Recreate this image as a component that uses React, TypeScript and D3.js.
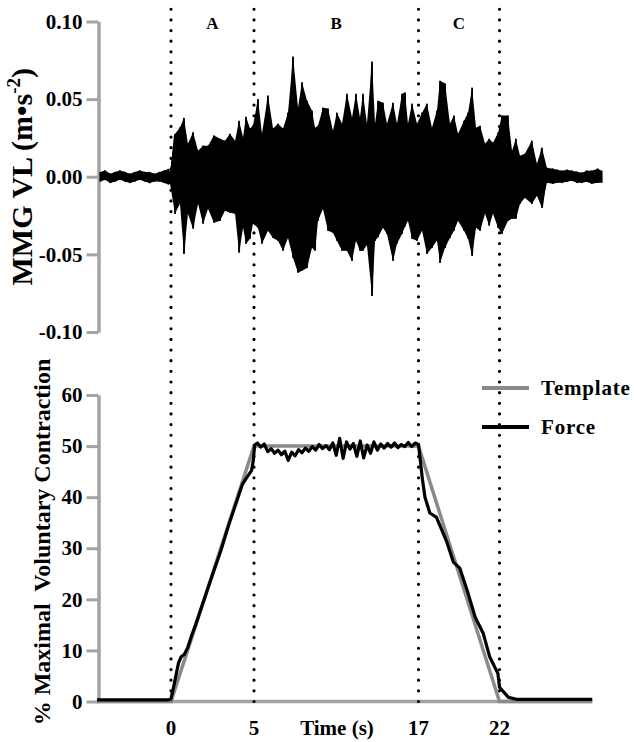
import React, { useEffect, useRef } from 'react';
import * as d3 from 'd3';

// protocol phases (s)
const phaseTimes = [0, 5, 17, 22];
const phaseLabels = ['A', 'B', 'C'];

// MMG VL signal, min / max per column (m·s-2)
const mmgTime = [
  -4.3, -4.0, -3.7, -3.4, -3.1, -2.8, -2.5, -2.2, -1.9, -1.6, -1.3, -1.0, -0.7, -0.4, -0.15,
  -0.06, 0.24, 0.54, 0.78, 1.02, 1.33, 1.63, 1.93, 2.23, 2.59, 2.95, 3.25, 3.55, 3.86, 4.1, 4.34, 4.52, 4.76, 4.94,
  5.29, 5.58, 6.02, 6.39, 6.75, 7.12, 7.48, 7.85, 8.21, 8.5, 8.87, 9.23, 9.45, 9.67, 10.03, 10.4, 10.76, 11.05,
  11.42, 11.78, 12.15, 12.44, 12.73, 12.95, 13.24, 13.61, 13.83, 14.05, 14.41, 14.7, 15.14, 15.43, 15.8, 16.02,
  16.23, 16.53, 16.89,
  17.22, 17.52, 17.83, 18.14, 18.33, 18.64, 18.94, 19.19, 19.44, 19.81, 20.06, 20.31, 20.55, 20.8, 21.11, 21.36,
  21.6, 21.91,
  22.15, 22.52, 22.77, 23.01, 23.26, 23.56, 23.99, 24.3, 24.61, 24.91, 25.28, 25.55, 25.83, 26.15, 26.45, 26.75,
  27.06, 27.37, 27.67, 28.04, 28.28,
];
const mmgMax = [
  0.003, 0.004, 0.002, 0.003, 0.004, 0.003, 0.002, 0.003, 0.004, 0.003, 0.003, 0.002, 0.003, 0.004, 0.005,
  0.003, 0.0275, 0.0318, 0.0379, 0.0213, 0.0286, 0.0168, 0.02, 0.02, 0.0265, 0.0245, 0.0232, 0.0277, 0.0232, 0.0361, 0.0254, 0.0387, 0.031, 0.033,
  0.0501, 0.0277, 0.0523, 0.031, 0.0342, 0.031, 0.0413, 0.0774, 0.0445, 0.0608, 0.049, 0.0426, 0.0316, 0.0329, 0.0445, 0.0439, 0.0297, 0.0413,
  0.0342, 0.0535, 0.0381, 0.0535, 0.0381, 0.0535, 0.0342, 0.0742, 0.0342, 0.049, 0.0477, 0.0342, 0.0477, 0.0342, 0.0535, 0.0542,
  0.0342, 0.0471, 0.0342,
  0.0413, 0.0471, 0.0316, 0.0426, 0.0619, 0.06, 0.0342, 0.0394, 0.0277, 0.0361, 0.0413, 0.0574, 0.0316, 0.0329, 0.0213, 0.0245,
  0.0219, 0.0284,
  0.0394, 0.0394, 0.0168, 0.0245, 0.0135, 0.0148, 0.0232, 0.0084, 0.0187, 0.0058, 0.0052, 0.0045, 0.0039, 0.0045, 0.0039, 0.0032,
  0.0026, 0.0039, 0.0039, 0.0052, 0.0039,
];
const mmgMin = [
  -0.003, -0.002, -0.004, -0.003, -0.002, -0.003, -0.004, -0.003, -0.002, -0.003, -0.004, -0.003, -0.003, -0.004, -0.005,
  -0.0045, -0.0239, -0.0174, -0.0497, -0.0239, -0.0335, -0.0174, -0.0303, -0.0206, -0.0297, -0.0284, -0.0219, -0.0232, -0.0239, -0.049, -0.0329, -0.0432, -0.04, -0.0303,
  -0.0329, -0.0432, -0.0348, -0.0394, -0.0413, -0.0477, -0.0394, -0.0523, -0.0619, -0.0606, -0.0587, -0.0458, -0.0477, -0.0284, -0.0206, -0.0348, -0.0361, -0.0413,
  -0.0477, -0.0477, -0.0542, -0.0413, -0.0477, -0.0477, -0.044, -0.0768, -0.0413, -0.039, -0.0329, -0.0368, -0.0542, -0.0432, -0.0368, -0.032,
  -0.0284, -0.04, -0.0413,
  -0.0348, -0.0497, -0.0458, -0.041, -0.0555, -0.0458, -0.0394, -0.0348, -0.0284, -0.0348, -0.04, -0.051, -0.0329, -0.0348, -0.0239, -0.0316,
  -0.0239, -0.0329,
  -0.0368, -0.0284, -0.0271, -0.027, -0.0174, -0.0135, -0.0174, -0.0123, -0.02, -0.0039, -0.0045, -0.0039, -0.0039, -0.0032, -0.0026, -0.0039,
  -0.0039, -0.0032, -0.0045, -0.0039, -0.0039,
];

// force (% MVC)
const forceTime = [
  -4.5, -2, -0.2, 0, 0.2, 0.45, 0.6, 0.8, 1.0, 1.2, 1.5, 2.0, 2.5, 3.0, 3.5, 4.0, 4.3, 4.6, 4.85, 4.95, 5.05,
  5.25, 5.5, 5.75, 6.0, 6.25, 6.5, 6.75, 7.0, 7.25, 7.5, 7.75, 8.0, 8.25, 8.5, 8.75, 9.0, 9.25, 9.5, 9.75, 10.0,
  10.25, 10.5, 10.75, 11.0, 11.25, 11.5, 11.75, 12.0, 12.25, 12.5, 12.75, 13.0, 13.25, 13.5, 13.75, 14.0, 14.25,
  14.5, 14.75, 15.0, 15.25, 15.5, 15.75, 16.0, 16.25, 16.5, 16.75, 17.0,
  17.1, 17.25, 17.4, 17.7, 18.1, 18.45, 18.75, 19.15, 19.55, 20.0, 20.5, 21.0, 21.4, 21.9, 22.0, 22.55, 23.1, 27.7,
];
const forceValue = [
  0.3, 0.3, 0.3, 0.5, 3.5, 7.5, 8.7, 9.2, 10.5, 12.5, 15.2, 20, 24.8, 29.5, 34.8, 39.6, 42.5, 44, 45.2, 47, 50.2,
  50.6, 49.8, 50.4, 48.9, 49.5, 48.6, 49.2, 48.3, 49.0, 47.2, 48.8, 48.1, 49.3, 48.7, 49.6, 49.0, 49.9, 49.2, 50.3, 49.5,
  50.1, 49.3, 50.6, 48.2, 51.5, 47.6, 50.8, 49.4, 50.5, 48.0, 51.0, 47.7, 50.2, 48.6, 50.8, 49.2, 50.4,
  49.6, 50.5, 49.8, 50.6, 49.7, 50.3, 49.9, 50.7, 49.9, 50.6, 50.3,
  47.5, 43.3, 40.0, 36.9, 36.1, 33.5, 31.2, 27.3, 26.1, 21.8, 16.5, 13.3, 8.7, 5.5, 2.8, 0.8, 0.4, 0.4,
];

// target template (% MVC)
const templateTime = [-4.5, 0, 5, 17, 22, 27.7];
const templateValue = [0, 0, 50, 50, 0, 0];

const mmgTicks = [-0.1, -0.05, 0, 0.05, 0.1];
const mvcTicks = [0, 10, 20, 30, 40, 50, 60];

const FONT = '"Liberation Serif", "Times New Roman", serif';
const AXIS_GREY = '#a3a3a3';

export default function App() {
  const ref = useRef<SVGSVGElement>(null);

  useEffect(() => {
    const svg = d3.select(ref.current);
    svg.selectAll('*').remove();

    // time axis is piecewise: each phase gets its own stretch
    const x = d3.scaleLinear()
      .domain([-4.5, ...phaseTimes, 28.3])
      .range([97, 171, 254, 418.5, 499.5, 602]);
    const yTop = d3.scaleLinear().domain([-0.1, 0.1]).range([332, 21.5]);
    const yBot = d3.scaleLinear().domain([0, 60]).range([701.5, 395]);

    const styleAxis = (g: any) => {
      g.select('.domain').attr('stroke', AXIS_GREY).attr('stroke-width', 3.5);
      g.selectAll('.tick line').attr('stroke', AXIS_GREY).attr('stroke-width', 3);
      g.selectAll('.tick text')
        .attr('font-family', FONT).attr('font-size', 21).attr('font-weight', 'bold').attr('fill', '#000');
    };

    // left axes
    svg.append('g')
      .attr('transform', 'translate(98.5,0)')
      .call(d3.axisLeft(yTop).tickValues(mmgTicks).tickFormat((d: any) => (+d).toFixed(2))
        .tickSize(12).tickSizeOuter(0).tickPadding(4))
      .call(styleAxis);

    svg.append('g')
      .attr('transform', 'translate(98.5,0)')
      .call(d3.axisLeft(yBot).tickValues(mvcTicks).tickFormat((d: any) => String(d))
        .tickSize(12).tickSizeOuter(0).tickPadding(4))
      .call(styleAxis);

    // bottom axis: line only, labels at phase limits
    svg.append('line')
      .attr('x1', x(-4.5)).attr('x2', x(templateTime[templateTime.length - 1]))
      .attr('y1', yBot(0)).attr('y2', yBot(0))
      .attr('stroke', AXIS_GREY).attr('stroke-width', 3.5);

    svg.append('g')
      .selectAll('text')
      .data(phaseTimes)
      .join('text')
      .attr('x', d => x(d))
      .attr('y', 735)
      .attr('text-anchor', 'middle')
      .attr('font-family', FONT).attr('font-size', 21).attr('font-weight', 'bold')
      .text(d => String(d));

    svg.append('text')
      .attr('x', 337).attr('y', 735)
      .attr('text-anchor', 'middle')
      .attr('font-family', FONT).attr('font-size', 21).attr('font-weight', 'bold')
      .text('Time (s)');

    // axis titles
    const topTitle = svg.append('text')
      .attr('transform', `translate(32,${yTop(0)}) rotate(-90)`)
      .attr('text-anchor', 'middle')
      .attr('font-family', FONT).attr('font-size', 30).attr('font-weight', 'bold');
    topTitle.append('tspan').text('MMG VL (m\u2022s');
    topTitle.append('tspan').attr('font-size', 19).attr('dy', -12).text('-2');
    topTitle.append('tspan').attr('dy', 12).text(')');

    svg.append('text')
      .attr('transform', `translate(50,542) rotate(-90)`)
      .attr('text-anchor', 'middle')
      .attr('font-family', FONT).attr('font-size', 24).attr('font-weight', 'bold')
      .style('white-space', 'pre')
      .text('% Maximal  Voluntary Contraction');

    // phase separators
    svg.append('g')
      .selectAll('line')
      .data(phaseTimes)
      .join('line')
      .attr('x1', d => x(d)).attr('x2', d => x(d))
      .attr('y1', yBot(0)).attr('y2', 2)
      .attr('stroke', '#000').attr('stroke-width', 3.2)
      .attr('stroke-linecap', 'round')
      .attr('stroke-dasharray', '0 10.65');

    svg.append('g')
      .selectAll('text')
      .data(phaseLabels)
      .join('text')
      .attr('x', (d, i) => (x(phaseTimes[i]) + x(phaseTimes[i + 1])) / 2)
      .attr('y', 29)
      .attr('text-anchor', 'middle')
      .attr('font-family', FONT).attr('font-size', 17).attr('font-weight', 'bold')
      .text(d => d);

    // MMG trace: dense band between the column extremes, with the
    // column-to-column excursions stroked on top
    const cols = mmgTime.map((t, i) => ({ t, hi: mmgMax[i], lo: mmgMin[i] }));
    svg.append('path')
      .datum(cols)
      .attr('fill', '#000')
      .attr('d', d3.area<{ t: number; hi: number; lo: number }>()
        .x(d => x(d.t)).y0(d => yTop(d.lo)).y1(d => yTop(d.hi)));

    const mmgPts: [number, number][] = [];
    cols.forEach(c => {
      mmgPts.push([c.t, c.hi]);
      mmgPts.push([c.t, c.lo]);
    });
    svg.append('path')
      .datum(mmgPts)
      .attr('fill', 'none')
      .attr('stroke', '#000')
      .attr('stroke-width', 1.8)
      .attr('stroke-linejoin', 'bevel')
      .attr('d', d3.line<[number, number]>().x(d => x(d[0])).y(d => yTop(d[1])));

    // template and force
    svg.append('path')
      .datum(templateTime.map((t, i) => [t, templateValue[i]] as [number, number]))
      .attr('fill', 'none')
      .attr('stroke', '#8a8a8a')
      .attr('stroke-width', 3.5)
      .attr('d', d3.line<[number, number]>().x(d => x(d[0])).y(d => yBot(d[1])));

    svg.append('path')
      .datum(forceTime.map((t, i) => [t, forceValue[i]] as [number, number]))
      .attr('fill', 'none')
      .attr('stroke', '#000')
      .attr('stroke-width', 3.2)
      .attr('stroke-linejoin', 'round')
      .attr('d', d3.line<[number, number]>().x(d => x(d[0])).y(d => yBot(d[1])));

    // legend
    const legend = [
      { name: 'Template', color: '#8a8a8a', y: 388 },
      { name: 'Force', color: '#000', y: 427 },
    ];
    const lg = svg.append('g');
    lg.selectAll('line')
      .data(legend)
      .join('line')
      .attr('x1', 482).attr('x2', 529)
      .attr('y1', d => d.y).attr('y2', d => d.y)
      .attr('stroke', d => d.color).attr('stroke-width', 4);
    lg.selectAll('text')
      .data(legend)
      .join('text')
      .attr('x', 541).attr('y', d => d.y + 7)
      .attr('font-family', FONT).attr('font-size', 21).attr('font-weight', 'bold')
      .attr('letter-spacing', 0.8)
      .text(d => d.name);
  }, []);

  return (
    <svg
      ref={ref}
      width={634}
      height={742}
      style={{ position: 'absolute', left: 0, top: 0, background: '#fff' }}
    />
  );
}
